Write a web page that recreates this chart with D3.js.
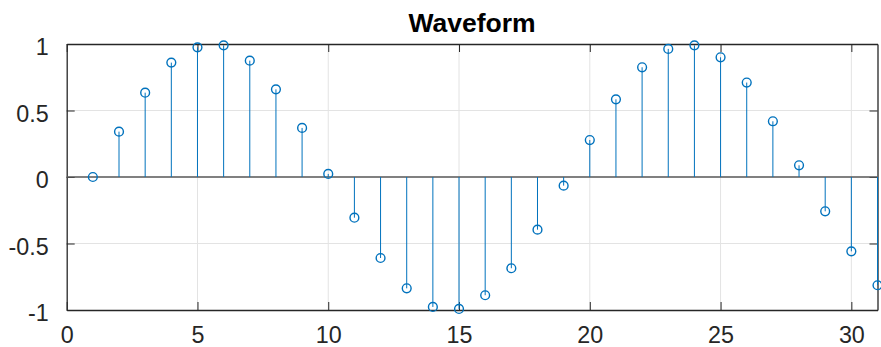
<!DOCTYPE html>
<html>
<head>
<meta charset="utf-8">
<script src="https://cdn.jsdelivr.net/npm/d3@7"></script>
<style>
  html, body { margin: 0; padding: 0; background: #fff; }
  svg { display: block; }
  text { font-family: "Liberation Sans", Arial, Helvetica, sans-serif; }
</style>
</head>
<body>
<svg id="chart" width="881" height="347"></svg>
<script>
// Sample index and sampled signal value
const sampleIndex = [1, 2, 3, 4, 5, 6, 7, 8, 9, 10, 11, 12, 13, 14, 15, 16,
  17, 18, 19, 20, 21, 22, 23, 24, 25, 26, 27, 28, 29, 30, 31];
const sampleValue = [0, 0.341, 0.634, 0.860, 0.975, 0.990, 0.875, 0.659, 0.369,
  0.023, -0.306, -0.609, -0.837, -0.977, -0.992, -0.889, -0.686, -0.396, -0.065,
  0.278, 0.584, 0.825, 0.963, 0.990, 0.900, 0.710, 0.419, 0.088, -0.258, -0.559, -0.814];
const xTicks = [0, 5, 10, 15, 20, 25, 30];
const yTicks = [-1, -0.5, 0, 0.5, 1];
const chartTitle = "Waveform";

const svg = d3.select("#chart");
const plotLeft = 66.7, plotRight = 877.5, plotTop = 44, plotBottom = 310;

const x = d3.scaleLinear().domain([0, 31]).range([plotLeft, plotRight]);
const y = d3.scaleLinear().domain([-1, 1]).range([plotBottom, plotTop]);

const axisColor = "#262626";
const stemColor = "#0072BD";

// grid
const grid = svg.append("g");
grid.selectAll("line.gx").data(xTicks.filter(t => t > 0)).join("line")
  .attr("x1", d => x(d)).attr("x2", d => x(d))
  .attr("y1", plotTop).attr("y2", plotBottom)
  .attr("stroke", "#e3e3e3").attr("stroke-width", 1);
grid.selectAll("line.gy").data(yTicks.filter(t => t > -1 && t < 1)).join("line")
  .attr("x1", plotLeft).attr("x2", plotRight)
  .attr("y1", d => y(d)).attr("y2", d => y(d))
  .attr("stroke", "#e3e3e3").attr("stroke-width", 1);

// axes (ticks pointing inward, box on)
const tickLen = 8;
const fontSize = 23.3;

const xAxisBottom = d3.axisBottom(x).tickValues(xTicks).tickSizeInner(-tickLen).tickSizeOuter(0).tickPadding(16);
const xAxisTop = d3.axisTop(x).tickValues(xTicks).tickSizeInner(-tickLen).tickSizeOuter(0).tickFormat("");
const yAxisLeft = d3.axisLeft(y).tickValues(yTicks).tickSizeInner(-tickLen).tickSizeOuter(0).tickPadding(18)
  .tickFormat(d => String(d));
const yAxisRight = d3.axisRight(y).tickValues(yTicks).tickSizeInner(-tickLen).tickSizeOuter(0).tickFormat("");

function style(g) {
  g.select(".domain").attr("stroke", axisColor).attr("stroke-width", 1.3);
  g.selectAll(".tick line").attr("stroke", axisColor).attr("stroke-width", 1);
  g.selectAll(".tick text").attr("fill", axisColor).attr("font-size", fontSize)
    .attr("font-family", "'Liberation Sans', Arial, Helvetica, sans-serif");
}

svg.append("g").attr("transform", `translate(0,${plotBottom})`).call(xAxisBottom).call(style)
  .selectAll(".tick text").attr("dy", "0.71em");
svg.append("g").attr("transform", `translate(0,${plotTop})`).call(xAxisTop).call(style);
svg.append("g").attr("transform", `translate(${plotLeft},0)`).call(yAxisLeft).call(style)
  .selectAll(".tick text").attr("dy", "0.45em");
svg.append("g").attr("transform", `translate(${plotRight},0)`).call(yAxisRight).call(style);

// stem baseline
svg.append("line")
  .attr("x1", plotLeft).attr("x2", plotRight)
  .attr("y1", y(0)).attr("y2", y(0))
  .attr("stroke", "#5a5a5a").attr("stroke-width", 1.3);

// stems
const data = sampleIndex.map((n, i) => ({ n, v: sampleValue[i] }));
svg.append("g").selectAll("line").data(data).join("line")
  .attr("x1", d => x(d.n)).attr("x2", d => x(d.n))
  .attr("y1", y(0)).attr("y2", d => y(d.v))
  .attr("stroke", stemColor).attr("stroke-width", 1);

// markers
svg.append("g").selectAll("circle").data(data).join("circle")
  .attr("cx", d => x(d.n)).attr("cy", d => y(d.v))
  .attr("r", 4.4)
  .attr("fill", "none")
  .attr("stroke", stemColor).attr("stroke-width", 1.4);

// title
svg.append("text")
  .attr("x", (plotLeft + plotRight) / 2).attr("y", 31.7)
  .attr("text-anchor", "middle")
  .attr("font-size", 26.5).attr("font-weight", "bold")
  .attr("fill", "#000")
  .text(chartTitle);
</script>
</body>
</html>
